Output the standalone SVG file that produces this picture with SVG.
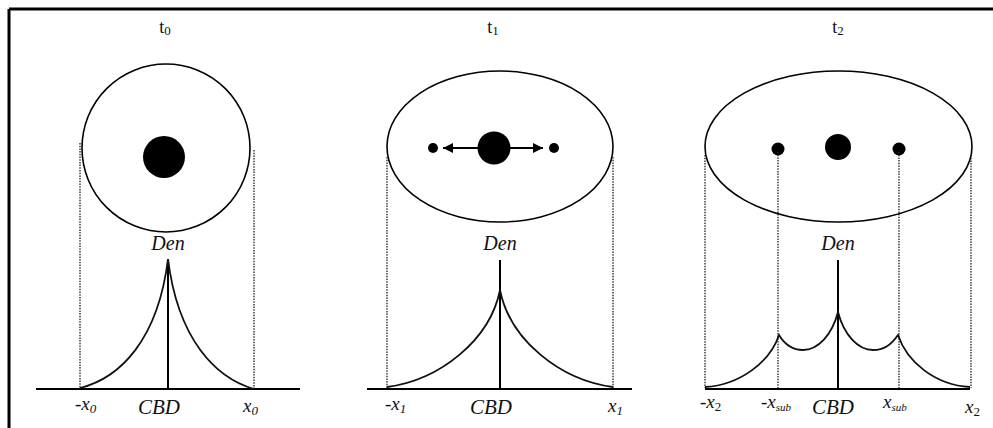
<svg xmlns="http://www.w3.org/2000/svg" width="993" height="428" viewBox="0 0 993 428">
<defs>
<style>
.ln{stroke:#000;stroke-width:2;fill:none}
.cv{stroke:#111;stroke-width:1.8;fill:none}
.dt{stroke:#222;stroke-width:1.3;stroke-dasharray:1.5 1.2;fill:none}
.el{stroke:#000;stroke-width:1.6;fill:#fff}
.dot{fill:#000}
text{font-family:'Liberation Serif','Times New Roman','DejaVu Serif',serif;fill:#111}
.i{font-style:italic}
</style>
<marker id="ah" viewBox="0 0 10 10" refX="10" refY="5" markerWidth="10" markerHeight="10" markerUnits="userSpaceOnUse" orient="auto">
<path d="M0,0 L10,5 L0,10 Z" fill="#000"/>
</marker>
</defs>
<rect x="0" y="0" width="993" height="428" fill="#fff"/>
<g id="frame">
<line x1="9" y1="9" x2="993" y2="9" stroke="#000" stroke-width="3"/>
<line x1="9" y1="9" x2="9" y2="428" stroke="#000" stroke-width="3"/>
</g>

<g id="panel-t0">
<text x="165" y="33" font-size="18" text-anchor="middle">t<tspan font-size="13" dy="2">0</tspan></text>
<circle class="el" cx="166" cy="148" r="84"/>
<circle class="dot" cx="164" cy="157" r="21"/>
<text class="i" x="168" y="250" font-size="20" text-anchor="middle">Den</text>
<text x="75" y="410" font-size="19">-<tspan class="i">x</tspan><tspan class="i" font-size="13" dy="3">0</tspan></text>
<text class="i" x="159" y="414" font-size="21" text-anchor="middle">CBD</text>
<text x="243" y="412" font-size="19"><tspan class="i">x</tspan><tspan class="i" font-size="13" dy="3">0</tspan></text>
</g>

<g id="panel-t1">
<text x="493" y="33" font-size="18" text-anchor="middle">t<tspan font-size="13" dy="2">1</tspan></text>
<ellipse class="el" cx="500" cy="146.5" rx="113" ry="75.5"/>
<circle class="dot" cx="494" cy="148" r="16.5"/>
<circle class="dot" cx="433" cy="148" r="5"/>
<circle class="dot" cx="554" cy="148" r="5"/>
<text class="i" x="500" y="250" font-size="20" text-anchor="middle">Den</text>
<text x="385" y="410" font-size="19">-<tspan class="i">x</tspan><tspan class="i" font-size="13" dy="3">1</tspan></text>
<text class="i" x="491" y="414" font-size="21" text-anchor="middle">CBD</text>
<text x="608" y="412" font-size="19"><tspan class="i">x</tspan><tspan class="i" font-size="13" dy="3">1</tspan></text>
</g>

<g id="panel-t2">
<text x="838" y="33" font-size="18" text-anchor="middle">t<tspan font-size="13" dy="2">2</tspan></text>
<ellipse class="el" cx="838.5" cy="146.5" rx="133.5" ry="75.5"/>
<circle class="dot" cx="838" cy="147" r="13"/>
<circle class="dot" cx="778" cy="149" r="6.5"/>
<circle class="dot" cx="899" cy="149" r="6.5"/>
<text class="i" x="838" y="250" font-size="20" text-anchor="middle">Den</text>
<text x="700" y="408" font-size="19">-<tspan class="i">x</tspan><tspan font-size="13" dy="3">2</tspan></text>
<text x="761" y="408" font-size="19">-<tspan class="i">x</tspan><tspan class="i" font-size="11" dy="3">sub</tspan></text>
<text class="i" x="833" y="414" font-size="21" text-anchor="middle">CBD</text>
<text x="883" y="408" font-size="19"><tspan class="i">x</tspan><tspan class="i" font-size="11" dy="3">sub</tspan></text>
<text x="965" y="413" font-size="19"><tspan class="i">x</tspan><tspan font-size="13" dy="3">2</tspan></text>
</g>

<g id="connectors">
<line class="dt" x1="80" y1="143" x2="80" y2="388"/>
<line class="dt" x1="254" y1="150" x2="254" y2="388"/>
<line class="ln" x1="36" y1="389" x2="300" y2="389"/>
<line class="ln" x1="168" y1="259" x2="168" y2="389"/>
<path class="cv" d="M80,388 C120,378 158,340 168,259 C178,340 216,378 254,389"/>
<line class="dt" x1="387" y1="157" x2="387" y2="388"/>
<line class="dt" x1="613" y1="157" x2="613" y2="388"/>
<line class="ln" x1="367" y1="389" x2="632" y2="389"/>
<line class="ln" x1="500" y1="260" x2="500" y2="389"/>
<path class="cv" d="M387,387 C440,380 490,340 500,290 C510,340 560,380 613,387"/>
<line class="ln" x1="478" y1="148" x2="443" y2="148" stroke-width="1.8" marker-end="url(#ah)"/>
<line class="ln" x1="510" y1="148" x2="543" y2="148" stroke-width="1.8" marker-end="url(#ah)"/>
<line class="dt" x1="705" y1="155" x2="705" y2="388"/>
<line class="dt" x1="971" y1="155" x2="971" y2="388"/>
<line class="dt" x1="778" y1="152" x2="778" y2="389"/>
<line class="dt" x1="899" y1="152" x2="899" y2="389"/>
<line class="ln" x1="705" y1="389" x2="970" y2="389"/>
<line class="ln" x1="838" y1="260" x2="838" y2="389"/>
<path class="cv" d="M705,387 C740,385 770,362 779,335 C785,345 792,350 803,350 C818,350 832,335 838,312 C844,335 858,350 873,350 C884,350 891,345 898,335 C907,362 935,385 970,387"/>
</g>
</svg>
